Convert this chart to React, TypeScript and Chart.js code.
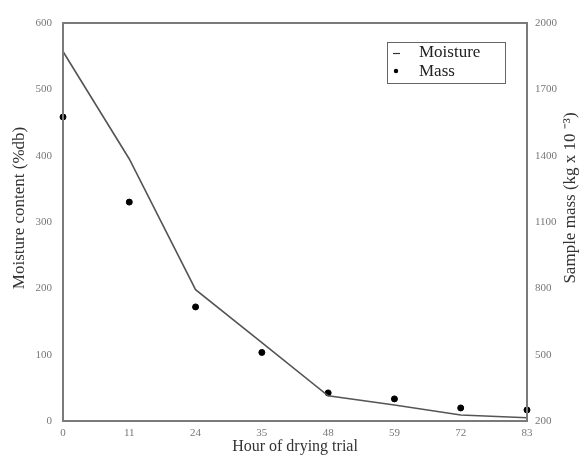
import React, { useEffect, useRef } from "react";
import { Chart, registerables } from "chart.js";

Chart.register(...registerables);

const hours = ["0", "11", "24", "35", "48", "59", "72", "83"];
const moisture = [557, 395, 198, 118, 38, 24, 9, 5];
const mass = [1575, 1190, 716, 510, 327, 300, 259, 250];

const FONT = "'Liberation Serif', 'Times New Roman', serif";

const framePlugin = {
  id: "frame",
  afterDatasetsDraw(chart: any) {
    const { ctx, chartArea: a } = chart;
    ctx.save();
    ctx.strokeStyle = "#7a7a7a";
    ctx.lineWidth = 2;
    ctx.strokeRect(a.left, a.top, a.right - a.left, a.bottom - a.top);
    // legend box
    const lx = 387, ly = 42, lw = 118, lh = 41;
    ctx.fillStyle = "#fff";
    ctx.fillRect(lx, ly, lw, lh);
    ctx.lineWidth = 1;
    ctx.strokeStyle = "#666";
    ctx.strokeRect(lx + 0.5, ly + 0.5, lw, lh);
    ctx.strokeStyle = "#333";
    ctx.lineWidth = 1.2;
    ctx.beginPath();
    ctx.moveTo(393, 53.5);
    ctx.lineTo(400, 53.5);
    ctx.stroke();
    ctx.fillStyle = "#000";
    ctx.beginPath();
    ctx.arc(396, 71, 2.2, 0, Math.PI * 2);
    ctx.fill();
    ctx.fillStyle = "#222";
    ctx.font = `17px ${FONT}`;
    ctx.textBaseline = "middle";
    ctx.textAlign = "left";
    ctx.fillText("Moisture", 419, 53);
    ctx.fillText("Mass", 419, 72);
    // titles
    ctx.fillStyle = "#333";
    ctx.textAlign = "center";
    ctx.font = `16px ${FONT}`;
    ctx.fillText("Hour of drying trial", 295, 447);
    ctx.font = `17px ${FONT}`;
    ctx.save();
    ctx.translate(20, 208);
    ctx.rotate(-Math.PI / 2);
    ctx.fillText("Moisture content (%db)", 0, 0);
    ctx.restore();
    ctx.save();
    ctx.translate(571, 198);
    ctx.rotate(-Math.PI / 2);
    ctx.fillText("Sample mass (kg x 10 ⁻³)", 0, 0);
    ctx.restore();
    ctx.restore();
  },
};

export default function App() {
  const ref = useRef<HTMLCanvasElement>(null);
  useEffect(() => {
    document.body.style.margin = "0";
    const chart = new Chart(ref.current!, {
      type: "line",
      data: {
        labels: hours,
        datasets: [
          {
            label: "Moisture",
            data: moisture,
            borderColor: "#555",
            borderWidth: 1.6,
            pointRadius: 0,
            yAxisID: "y",
            tension: 0,
          },
          {
            label: "Mass",
            data: mass,
            showLine: false,
            pointRadius: 3,
            pointBackgroundColor: "#000",
            pointBorderColor: "#000",
            yAxisID: "y1",
          },
        ],
      },
      options: {
        animation: false,
        responsive: false,
        layout: { padding: { top: 23, left: 0, right: 0, bottom: 0 } },
        plugins: { legend: { display: false }, tooltip: { enabled: false } },
        scales: {
          x: {
            type: "category",
            offset: false,
            grid: { display: false, drawTicks: false },
            border: { display: false },
            ticks: { color: "#777", font: { family: FONT, size: 11 }, padding: 6, maxRotation: 0, autoSkip: false },
            afterFit(s: any) { s.height = 41; },
          },
          y: {
            position: "left",
            min: 0,
            max: 600,
            grid: { display: false, drawTicks: false },
            border: { display: false },
            ticks: { stepSize: 100, color: "#777", font: { family: FONT, size: 11 }, padding: 11 },
            afterFit(s: any) { s.width = 63; },
          },
          y1: {
            position: "right",
            min: 200,
            max: 2000,
            grid: { display: false, drawTicks: false },
            border: { display: false },
            ticks: { stepSize: 300, color: "#777", font: { family: FONT, size: 11 }, padding: 8, callback: (v: any) => String(v) },
            afterFit(s: any) { s.width = 60; },
          },
        },
      },
      plugins: [framePlugin],
    });
    return () => chart.destroy();
  }, []);
  return (
    <div style={{ width: 587, height: 462, background: "#fff" }}>
      <canvas ref={ref} width={587} height={462} style={{ display: "block" }} />
    </div>
  );
}
